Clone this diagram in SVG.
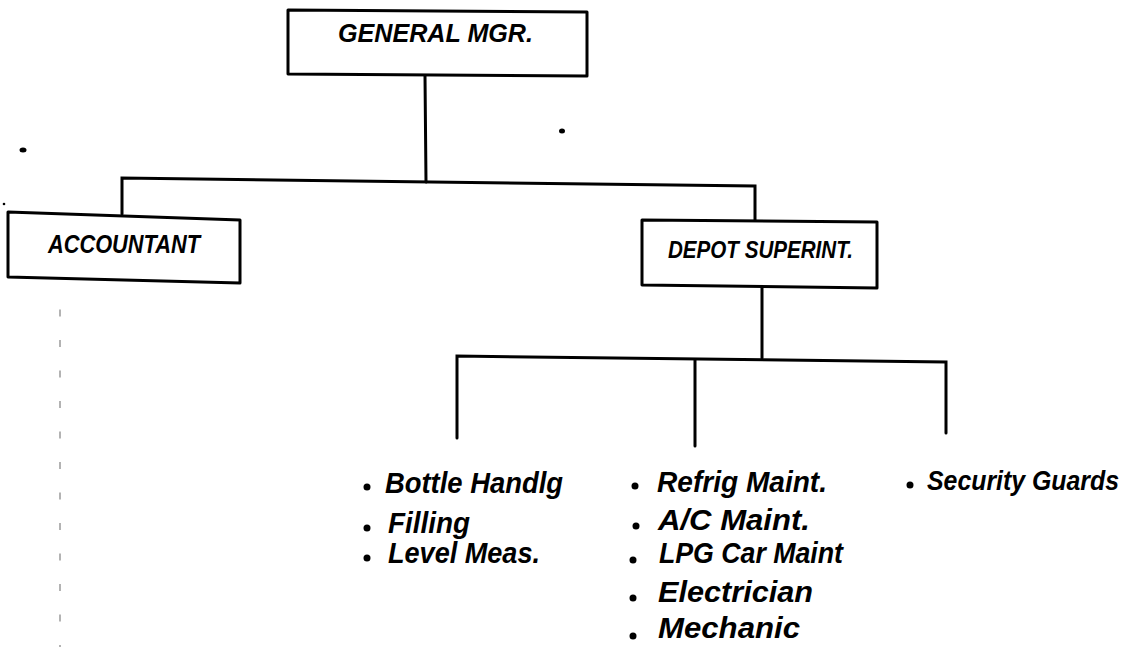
<svg xmlns="http://www.w3.org/2000/svg" width="1147" height="647" viewBox="0 0 1147 647">
<style>
.box{fill:#fff;stroke:#000;stroke-width:3;stroke-linejoin:round}
.ln{fill:none;stroke:#000;stroke-width:3;stroke-linecap:round}
.cap{font-family:"Liberation Sans",Arial,sans-serif;font-weight:bold;font-style:italic;font-size:25px;fill:#000}
.hand{font-family:"Liberation Sans",Arial,sans-serif;font-weight:bold;font-style:italic;font-size:30px;fill:#000}
.dot{fill:#000}
</style>
<rect width="1147" height="647" fill="#fff"/>
<g id="connectors">
<path class="ln" d="M425,76 L426,182"/>
<path class="ln" d="M122,214 L122,178 L755,186 L755,221"/>
<path class="ln" d="M762,288 L762,358"/>
<path class="ln" d="M457,438 L457,356 L946,362 L946,433"/>
<path class="ln" d="M695,360 L695,446"/>
<path fill="none" stroke="#9a9a9a" stroke-width="1.5" stroke-dasharray="7 23.5" d="M60,309.5 L60,647"/>
</g>
<g id="general-mgr">
<path class="box" d="M288,10 L587,12 L587,76 L288,74 Z"/>
<text class="cap" x="338" y="42" style="font-size:26px" textLength="195" lengthAdjust="spacingAndGlyphs">GENERAL MGR.</text>
</g>
<g id="accountant">
<path class="box" d="M8,212 L240,220 L240,283 L8,277 Z"/>
<text class="cap" x="48" y="253" textLength="152" lengthAdjust="spacingAndGlyphs">ACCOUNTANT</text>
</g>
<g id="depot-superint">
<path class="box" d="M642,220 L877,222 L877,288 L642,285 Z"/>
<text class="cap" x="668" y="258" style="font-size:23px" textLength="185" lengthAdjust="spacingAndGlyphs">DEPOT SUPERINT.</text>
</g>
<g id="bottling-group">
<circle class="dot" cx="367" cy="487" r="3.5"/>
<text class="hand" x="385" y="493" textLength="178" lengthAdjust="spacingAndGlyphs">Bottle Handlg</text>
<circle class="dot" cx="367" cy="528" r="3.5"/>
<text class="hand" x="388" y="533" textLength="82" lengthAdjust="spacingAndGlyphs">Filling</text>
<circle class="dot" cx="367" cy="558" r="3.5"/>
<text class="hand" x="388" y="563" textLength="152" lengthAdjust="spacingAndGlyphs">Level Meas.</text>
</g>
<g id="maintenance-group">
<circle class="dot" cx="635" cy="486" r="3.5"/>
<text class="hand" x="657" y="492" textLength="170" lengthAdjust="spacingAndGlyphs">Refrig Maint.</text>
<circle class="dot" cx="636" cy="526" r="3.5"/>
<text class="hand" x="658" y="530" textLength="152" lengthAdjust="spacingAndGlyphs">A/C Maint.</text>
<circle class="dot" cx="633" cy="560" r="3.5"/>
<text class="hand" x="659" y="563" textLength="184" lengthAdjust="spacingAndGlyphs">LPG Car Maint</text>
<circle class="dot" cx="633" cy="598" r="3.5"/>
<text class="hand" x="658" y="602" textLength="155" lengthAdjust="spacingAndGlyphs">Electrician</text>
<circle class="dot" cx="633" cy="636" r="3.5"/>
<text class="hand" x="658" y="638" textLength="142" lengthAdjust="spacingAndGlyphs">Mechanic</text>
</g>
<g id="security-group">
<circle class="dot" cx="910" cy="485" r="3.5"/>
<text class="hand" x="927" y="490" style="font-size:27px" textLength="192" lengthAdjust="spacingAndGlyphs">Security Guards</text>
</g>
<g id="marks">
<ellipse class="dot" cx="23" cy="150" rx="3.5" ry="2.5"/>
<ellipse class="dot" cx="562" cy="131" rx="3" ry="2.5"/>
<circle class="dot" cx="4" cy="204" r="1.3"/>
</g>
</svg>
